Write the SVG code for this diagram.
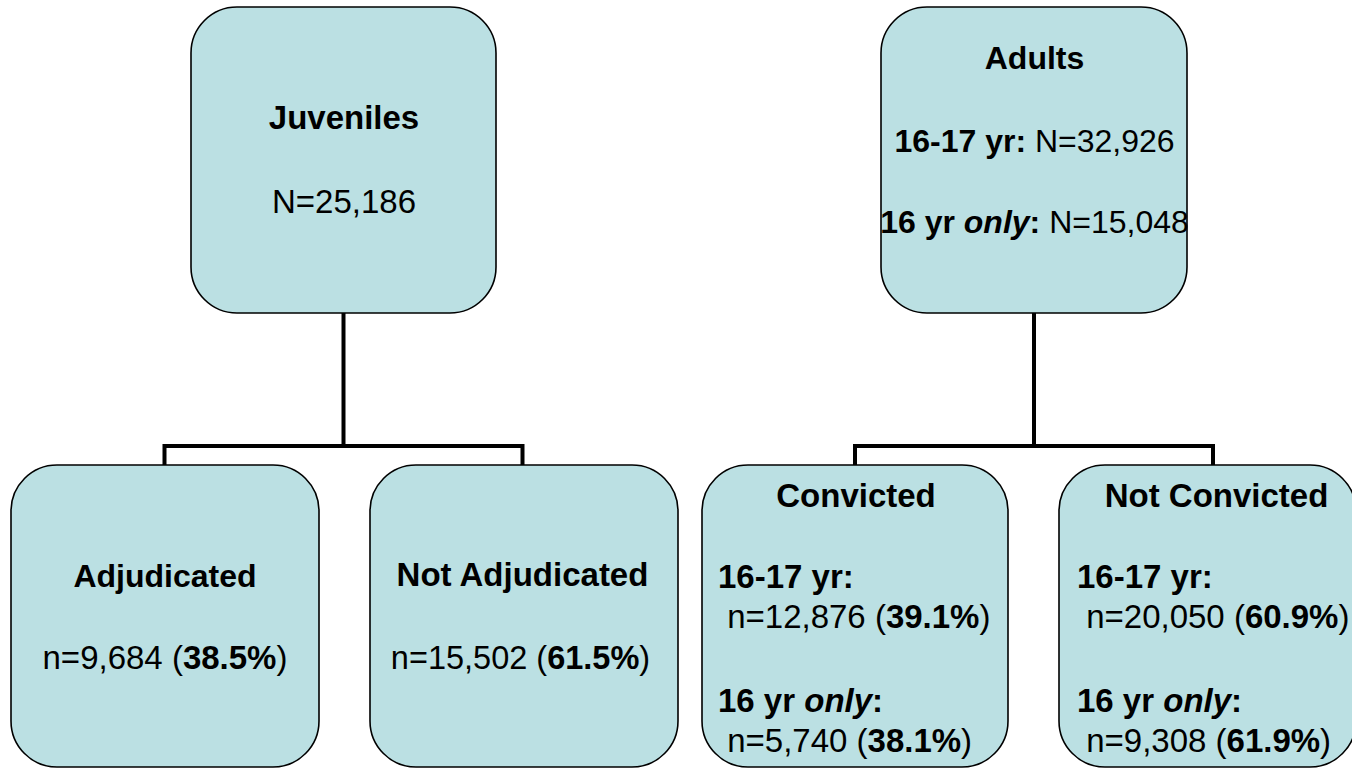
<svg xmlns="http://www.w3.org/2000/svg" width="1352" height="768" viewBox="0 0 1352 768">
  <style>
    .box { fill: #BBE0E3; stroke: #000000; stroke-width: 1.6; }
    .conn { fill: none; stroke: #000000; stroke-width: 4; stroke-linejoin: miter; stroke-linecap: butt; }
    text { font-family: "Liberation Sans", Arial, sans-serif; fill: #000000; font-size: 33px; }
    .b { font-weight: bold; }
    .i { font-style: italic; font-weight: bold; }
    .c { text-anchor: middle; }
  </style>
  <rect x="0" y="0" width="1352" height="768" fill="#FFFFFF"/>
  <g id="connectors">
    <polyline class="conn" points="343.5,313 343.5,446"/>
    <polyline class="conn" points="164.5,466 164.5,446 522.5,446 522.5,466"/>
    <polyline class="conn" points="1034,313 1034,446"/>
    <polyline class="conn" points="855,466 855,446 1213,446 1213,466"/>
  </g>
  <g id="juveniles">
    <rect class="box" x="191" y="7" width="305" height="306" rx="46" ry="46"/>
    <text class="c b" x="344" y="129">Juveniles</text>
    <text class="c" x="344" y="213">N=25,186</text>
  </g>
  <g id="adults">
    <rect class="box" x="881" y="7" width="306" height="306" rx="46" ry="46"/>
    <text class="c b" x="1034.5" y="69" style="font-size:32px">Adults</text>
    <text class="c" x="1034.5" y="152" style="font-size:32px"><tspan class="b">16-17 yr: </tspan>N=32,926</text>
    <text class="c" x="1034.5" y="233" style="font-size:32px"><tspan class="b">16 yr </tspan><tspan class="i">only</tspan><tspan class="b">: </tspan>N=15,048</text>
  </g>
  <g id="adjudicated">
    <rect class="box" x="11" y="465" width="308" height="302" rx="46" ry="46"/>
    <text class="c b" x="165" y="587" style="font-size:32px">Adjudicated</text>
    <text class="c" x="165" y="669">n=9,684 (<tspan class="b">38.5%</tspan>)</text>
  </g>
  <g id="not-adjudicated">
    <rect class="box" x="370" y="465" width="308" height="302" rx="46" ry="46"/>
    <text class="c b" x="522.5" y="586">Not Adjudicated</text>
    <text class="c" x="520.5" y="669" style="font-size:32.5px">n=15,502 (<tspan class="b">61.5%</tspan>)</text>
  </g>
  <g id="convicted">
    <rect class="box" x="702" y="465" width="306" height="302" rx="46" ry="46"/>
    <text class="c b" x="856" y="507">Convicted</text>
    <text class="b" x="718" y="588">16-17 yr:</text>
    <text x="718" y="628" xml:space="preserve"> n=12,876 (<tspan class="b">39.1%</tspan>)</text>
    <text x="718" y="712"><tspan class="b">16 yr </tspan><tspan class="i">only</tspan><tspan class="b">:</tspan></text>
    <text x="718" y="752" xml:space="preserve"> n=5,740 (<tspan class="b">38.1%</tspan>)</text>
  </g>
  <g id="not-convicted">
    <rect class="box" x="1059" y="465" width="297" height="302" rx="46" ry="46"/>
    <text class="c b" x="1216.5" y="507">Not Convicted</text>
    <text class="b" x="1077" y="588">16-17 yr:</text>
    <text x="1077" y="628" xml:space="preserve"> n=20,050 (<tspan class="b">60.9%</tspan>)</text>
    <text x="1077" y="712"><tspan class="b">16 yr </tspan><tspan class="i">only</tspan><tspan class="b">:</tspan></text>
    <text x="1077" y="752" xml:space="preserve"> n=9,308 (<tspan class="b">61.9%</tspan>)</text>
  </g>
</svg>
